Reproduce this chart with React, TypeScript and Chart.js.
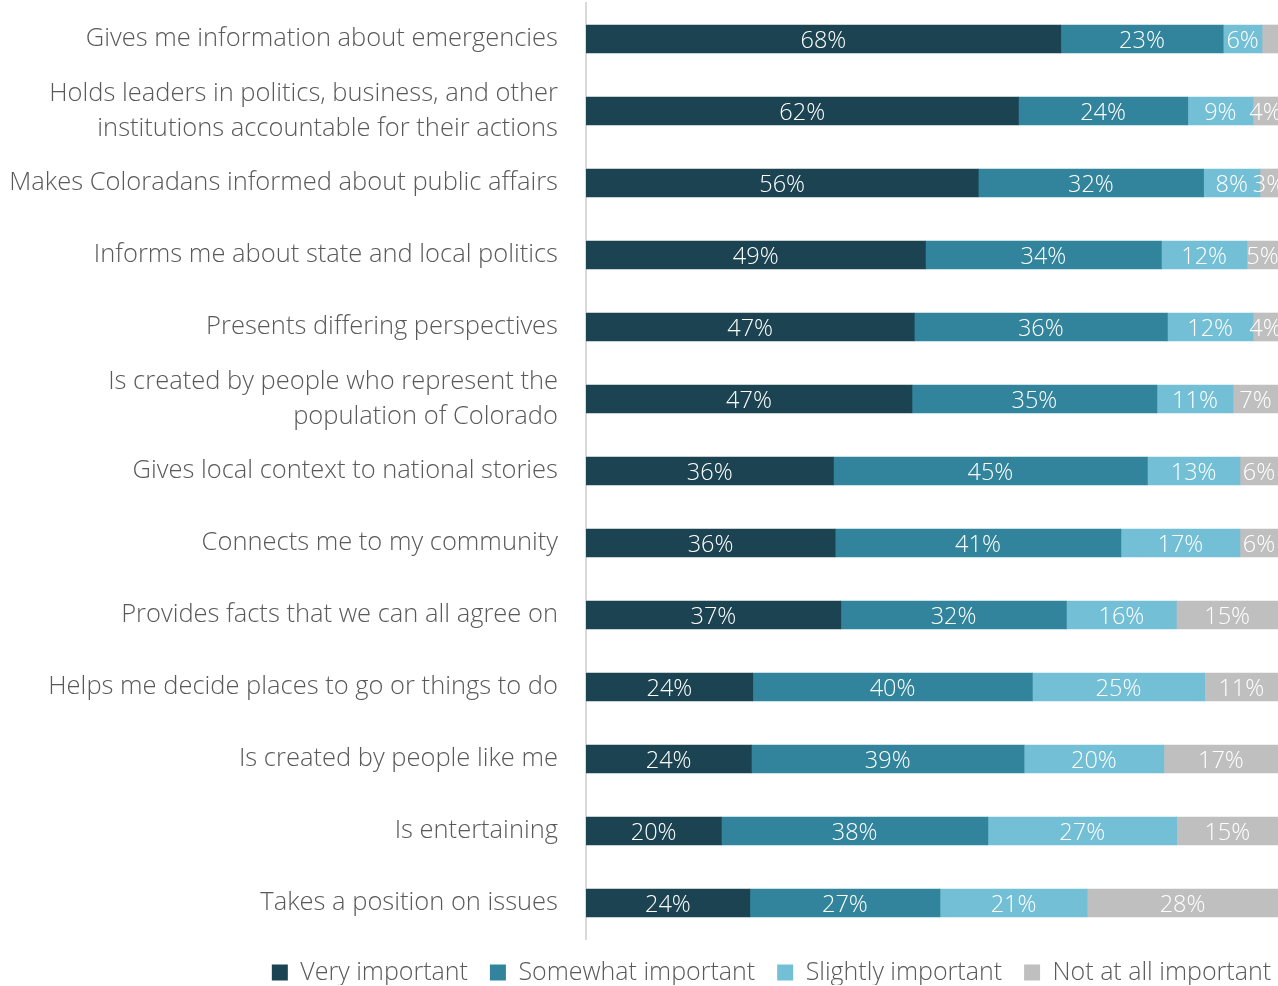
import React, { useEffect, useRef } from "react";
import { Chart, registerables } from "chart.js";

Chart.register(...registerables);

const categories: (string | string[])[] = [
  "Gives me information about emergencies",
  ["Holds leaders in politics, business, and other", "institutions accountable for their actions"],
  "Makes Coloradans informed about public affairs",
  "Informs me about state and local politics",
  "Presents differing perspectives",
  ["Is created by people who represent the", "population of Colorado"],
  "Gives local context to national stories",
  "Connects me to my community",
  "Provides facts that we can all agree on",
  "Helps me decide places to go or things to do",
  "Is created by people like me",
  "Is entertaining",
  "Takes a position on issues",
];

const veryImportant = [68.4, 62.3, 56.4, 49.2, 47.2, 47.1, 35.8, 36.0, 36.6, 24.1, 23.9, 19.5, 23.6];
const somewhatImportant = [23.4, 24.4, 32.4, 34.2, 36.4, 35.4, 45.4, 41.3, 32.4, 40.4, 39.4, 38.4, 27.4];
const slightlyImportant = [5.6, 9.4, 8.1, 12.4, 12.3, 11.0, 13.4, 17.2, 15.8, 24.9, 20.2, 27.2, 21.2];
const notAtAllImportant = [2.3, 3.6, 2.6, 4.5, 3.6, 6.5, 5.5, 5.5, 14.6, 10.6, 16.5, 14.6, 27.5];

const seriesNames = ["Very important", "Somewhat important", "Slightly important", "Not at all important"];
const seriesColors = ["#1B4351", "#31849B", "#73BFD5", "#BFBFBF"];

const FONT = "'Open Sans', 'Noto Sans', sans-serif";

export default function App() {
  const ref = useRef<HTMLCanvasElement | null>(null);
  useEffect(() => {
    if (!ref.current) return;
    const raw = [veryImportant, somewhatImportant, slightlyImportant, notAtAllImportant];
    const totals = categories.map((_, i) => raw.reduce((s, arr) => s + arr[i], 0));
    const labelPlugin = {
      id: "segLabels",
      beforeDraw(chart: any) {
        const lg = chart.legend;
        if (lg && !lg._shifted) {
          lg.left += 15;
          lg.right += 15;
          lg.top -= 1;
          lg.bottom -= 1;
          lg._shifted = true;
        }
      },
      afterDatasetsDraw(chart: any) {
        const ctx = chart.ctx;
        ctx.save();
        ctx.font = `300 23.5px ${FONT}`;
        ctx.fillStyle = "#FFFFFF";
        ctx.textAlign = "center";
        ctx.textBaseline = "middle";
        chart.data.datasets.forEach((ds: any, di: number) => {
          const meta = chart.getDatasetMeta(di);
          meta.data.forEach((el: any, i: number) => {
            const v = raw[di][i];
            if (v < 2.5) return;
            const cx = (el.x + el.base) / 2;
            ctx.fillText(Math.round(v) + "%", cx, el.y + 2);
          });
        });
        ctx.restore();
      },
    };
    const chart = new Chart(ref.current, {
      type: "bar",
      data: {
        labels: categories,
        datasets: raw.map((arr, di) => ({
          label: seriesNames[di],
          data: arr.map((v, i) => (v / totals[i]) * 100),
          backgroundColor: seriesColors[di],
          borderWidth: 0,
          barThickness: 28,
        })),
      },
      options: {
        indexAxis: "y",
        animation: false,
        responsive: false,
        maintainAspectRatio: false,
        layout: { padding: { top: 3, right: 0, bottom: 0, left: 0 } },
        scales: {
          x: { display: false, stacked: true, min: 0, max: 100 },
          y: {
            stacked: true,
            grid: { display: false, drawTicks: false },
            border: { display: true, color: "#D9D9D9", width: 2 },
            ticks: {
              autoSkip: false,
              padding: 28,
              color: "#595959",
              font: { family: FONT, size: 25.5, weight: "300", lineHeight: 1.37 },
            },
            afterFit(scale: any) {
              scale.width = 586;
              scale.paddingTop = 0;
              scale.paddingBottom = 0;
            },
          },
        },
        plugins: {
          tooltip: { enabled: false },
          legend: {
            position: "bottom",
            align: "end",
            maxHeight: 47,
            labels: {
              boxWidth: 16,
              boxHeight: 16,
              padding: 22,
              color: "#595959",
              font: { family: FONT, size: 25, weight: "300" },
            },
          },
        },
      },
      plugins: [labelPlugin],
    });
    return () => chart.destroy();
  }, []);
  return (
    <div style={{ position: "absolute", left: 0, top: 0, width: 1278, height: 986 }}>
      <canvas ref={ref} width={1278} height={986} style={{ width: 1278, height: 986 }} />
    </div>
  );
}
